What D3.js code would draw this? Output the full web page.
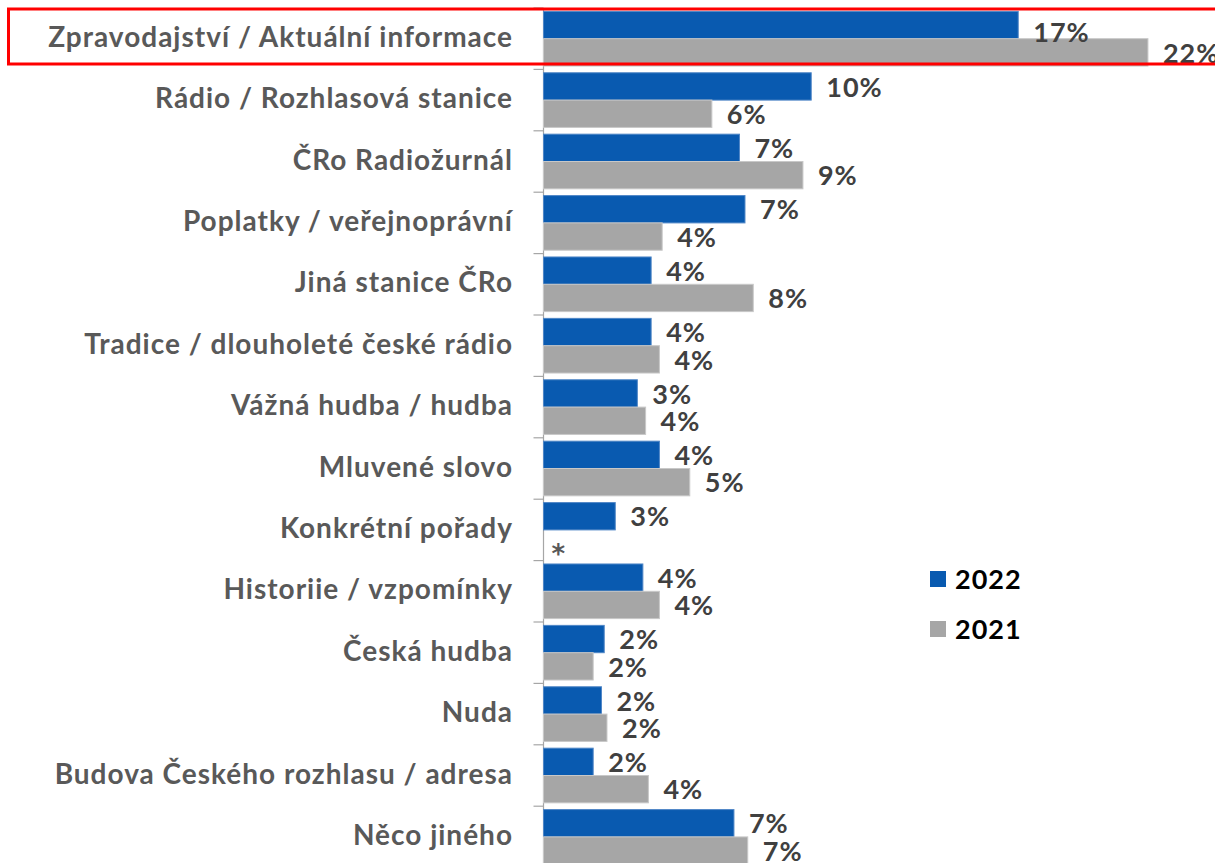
<!DOCTYPE html>
<html>
<head>
<meta charset="utf-8">
<script src="https://cdn.jsdelivr.net/npm/d3@7"></script>
<style>
  body { margin: 0; background: #fff; }
  svg { display: block; font-family: Lato, "Liberation Sans", sans-serif; }
</style>
</head>
<body>
<div id="chart"></div>
<script>
let categories = [
  "Zpravodajství / Aktuální informace",
  "Rádio / Rozhlasová stanice",
  "ČRo Radiožurnál",
  "Poplatky / veřejnoprávní",
  "Jiná stanice ČRo",
  "Tradice / dlouholeté české rádio",
  "Vážná hudba / hudba",
  "Mluvené slovo",
  "Konkrétní pořady",
  "Historiie / vzpomínky",
  "Česká hudba",
  "Nuda",
  "Budova Českého rozhlasu / adresa",
  "Něco jiného"
];
let years = ["2022", "2021"];
let values2022 = [17.2, 9.7, 7.1, 7.3, 3.9, 3.9, 3.4, 4.2, 2.6, 3.6, 2.2, 2.1, 1.8, 6.9];
let values2021 = [21.9, 6.1, 9.4, 4.3, 7.6, 4.2, 3.7, 5.3, null, 4.2, 1.8, 2.3, 3.8, 7.4];
let labels2022 = ["17%", "10%", "7%", "7%", "4%", "4%", "3%", "4%", "3%", "4%", "2%", "2%", "2%", "7%"];
let labels2021 = ["22%", "6%", "9%", "4%", "8%", "4%", "4%", "5%", "*", "4%", "2%", "2%", "4%", "7%"];

let colors = {"2022": "#095ab0", "2021": "#a6a6a6"};
let strokes = {"2022": "#4f86c6", "2021": "#c8c8c8"};

let width = 1215, height = 863;

let svg = d3.select("#chart").append("svg")
  .attr("width", width)
  .attr("height", height);

let x = d3.scaleLinear()
  .domain([0, 22])
  .range([543.5, 543.5 + 22 * 27.6]);

let y = d3.scaleBand()
  .domain(categories)
  .range([8, 867.6])
  .paddingInner(0.11)
  .paddingOuter(0.055);

let y1 = d3.scaleBand()
  .domain(years)
  .range([0, y.bandwidth()]);

let rows = categories.map(function (c, i) {
  return {
    name: c,
    index: i,
    bars: [
      {year: "2022", value: values2022[i], label: labels2022[i], row: i},
      {year: "2021", value: values2021[i], label: labels2021[i], row: i}
    ]
  };
});

// axis with ticks between categories
let step = y.step();
let y0 = y.range()[0];
svg.append("line")
  .attr("x1", x(0)).attr("x2", x(0))
  .attr("y1", y0).attr("y2", y.range()[1])
  .attr("stroke", "#a6a6a6")
  .attr("stroke-width", 1.2);

svg.selectAll(".tick-line")
  .data(d3.range(categories.length + 1))
  .enter().append("line")
  .attr("class", "tick-line")
  .attr("x1", x(0) - 10).attr("x2", x(0))
  .attr("y1", function (d) { return y0 + d * step; })
  .attr("y2", function (d) { return y0 + d * step; })
  .attr("stroke", "#a6a6a6")
  .attr("stroke-width", 1.2);

let groups = svg.selectAll(".row")
  .data(rows)
  .enter().append("g")
  .attr("class", "row")
  .attr("transform", function (d) { return "translate(0," + y(d.name) + ")"; });

groups.append("text")
  .attr("x", 513)
  .attr("y", y.bandwidth() / 2)
  .attr("dy", "0.29em")
  .attr("text-anchor", "end")
  .attr("font-size", 28)
  .attr("font-weight", "bold")
  .attr("letter-spacing", 1)
  .attr("fill", "#595959")
  .text(function (d) { return d.name; });

groups.selectAll("rect")
  .data(function (d) { return d.bars.filter(function (b) { return b.value != null; }); })
  .enter().append("rect")
  .attr("x", x(0))
  .attr("y", function (d) { return y1(d.year); })
  .attr("width", function (d) { return x(d.value) - x(0); })
  .attr("height", y1.bandwidth())
  .attr("fill", function (d) { return colors[d.year]; })
  .attr("stroke", function (d) { return strokes[d.year]; })
  .attr("stroke-width", 1);

// value labels; the top one was nudged down in the original
groups.selectAll(".val")
  .data(function (d) { return d.bars; })
  .enter().append("text")
  .attr("class", "val")
  .attr("x", function (d) { return (d.value == null ? x(0) + 8 : x(d.value) + 15); })
  .attr("y", function (d) {
    let cy = y1(d.year) + y1.bandwidth() / 2;
    if (d.row === 0 && d.year === "2022") cy += 7;
    return cy;
  })
  .attr("dy", function (d) { return d.value == null ? "0.75em" : "0.38em"; })
  .attr("font-family", function (d) { return d.value == null ? "DejaVu Sans" : null; })
  .attr("font-size", function (d) { return d.value == null ? 26 : 27; })
  .attr("font-weight", "bold")
  .attr("letter-spacing", function (d) { return d.value == null ? 0 : 1; })
  .attr("fill", function (d) { return d.value == null ? "#595959" : "#404040"; })
  .text(function (d) { return d.label; });

// highlight box around first row
svg.append("rect")
  .attr("x", 8.5)
  .attr("y", 9)
  .attr("width", 1215)
  .attr("height", 55)
  .attr("fill", "none")
  .attr("stroke", "#ff0000")
  .attr("stroke-width", 3);

// legend
let legend = svg.selectAll(".legend")
  .data(years)
  .enter().append("g")
  .attr("class", "legend")
  .attr("transform", function (d, i) { return "translate(930," + (571 + i * 50) + ")"; });

legend.append("rect")
  .attr("width", 16)
  .attr("height", 16)
  .attr("fill", function (d) { return colors[d]; });

legend.append("text")
  .attr("x", 25)
  .attr("y", 8)
  .attr("dy", "0.36em")
  .attr("font-size", 27)
  .attr("font-weight", "bold")
  .attr("letter-spacing", 1)
  .attr("fill", "#000")
  .text(function (d) { return d; });
</script>
</body>
</html>
